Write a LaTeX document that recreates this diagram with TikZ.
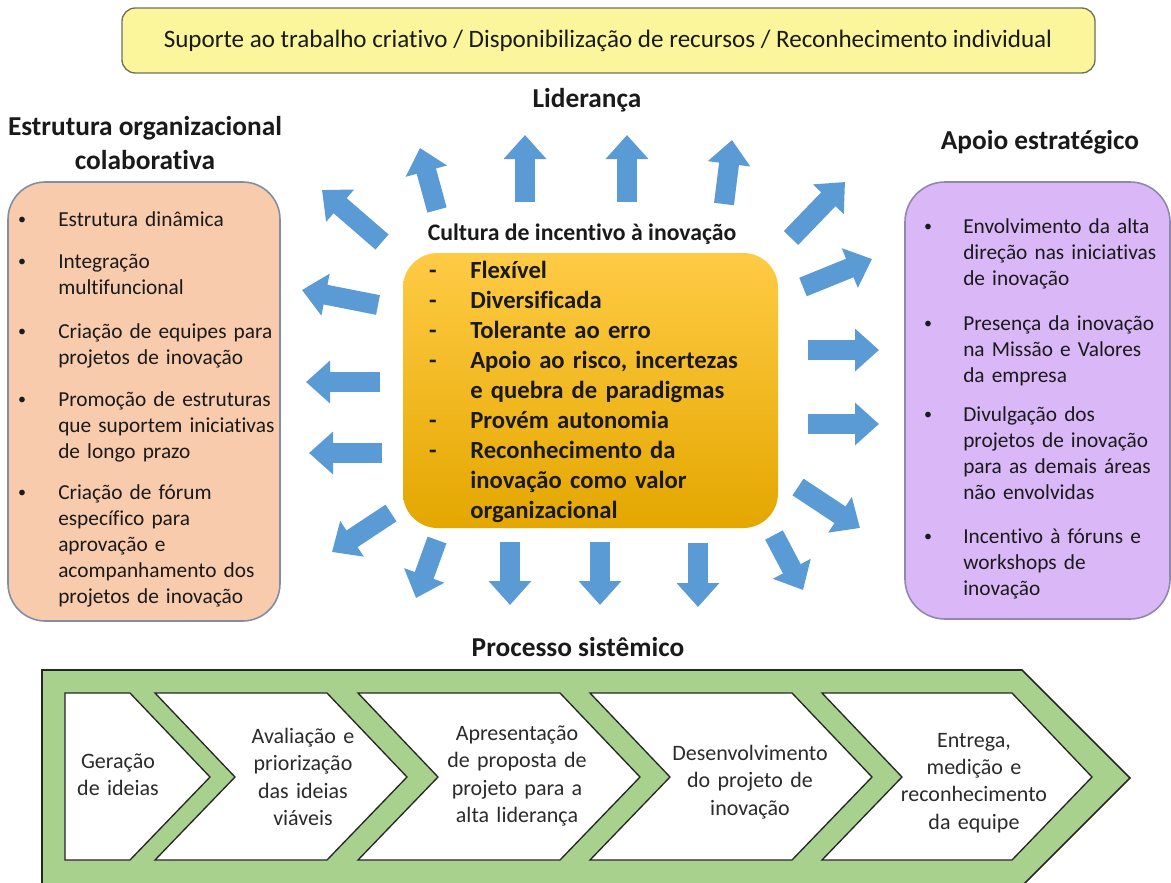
\documentclass[tikz,border=0pt]{standalone}
\usepackage{fontspec}
\setmainfont{Carlito}[Ligatures=NoCommon]
\usetikzlibrary{arrows.meta}

\definecolor{ink}{HTML}{1A1A1A}
\definecolor{steptext}{HTML}{2B2B2B}
\definecolor{topfill}{HTML}{FBF59C}
\definecolor{topedge}{HTML}{6E7058}
\definecolor{peach}{HTML}{F8CBAD}
\definecolor{peachedge}{HTML}{7F8EA6}
\definecolor{lilac}{HTML}{DAB8F7}
\definecolor{lilacedge}{HTML}{8E88B0}
\definecolor{goldtop}{HTML}{FFCB45}
\definecolor{goldmid}{HTML}{FFC000}
\definecolor{goldbot}{HTML}{E4A700}
\definecolor{arrowblue}{HTML}{5B9BD5}
\definecolor{leaf}{HTML}{A9D18E}

\begin{document}
\begin{tikzpicture}[x=0.75pt, y=-0.75pt,
  heading/.style={font=\fontsize{20.5}{25}\selectfont\bfseries, text=ink, inner sep=0, align=center},
  listitem/.style={font=\fontsize{16}{19.5}\selectfont, text=ink, align=left, inner sep=0,
                   anchor=base west, text width=190pt},
  bulletmark/.style={font=\fontsize{12}{14}\selectfont, text=ink, inner sep=0, anchor=base},
  cultitem/.style={font=\fontsize{18.5}{22.5}\selectfont\bfseries, text=ink, align=left, inner sep=0,
                   anchor=base west, text width=220pt},
  cultdash/.style={font=\fontsize{18.5}{22.5}\selectfont\bfseries, text=ink, inner sep=0, anchor=base},
  steplabel/.style={font=\fontsize{16.5}{20.5}\selectfont, text=steptext, align=center, inner sep=0,
                    text width=140pt},
  blockarrow/.style={draw=arrowblue, line width=15pt, -{Triangle[width=31pt,length=18pt]}},
  stepshape/.style={fill=white, draw=black!85, line width=1pt, line join=miter}
]
\useasboundingbox (0,0) rectangle (1171,882);

% ---------- top banner ----------
\draw[fill=topfill, draw=topedge, line width=1pt, rounded corners=10pt] (122,8) rectangle (1095,73);
\node[font=\fontsize{18.8}{22}\selectfont, text=ink, inner sep=0] (banner) at (608,41)
  {Suporte ao trabalho criativo / Disponibilização de recursos / Reconhecimento individual};

% ---------- headings ----------
\node[heading] (lead) at (587,100) {Liderança};
\node[heading] (struct) at (145,143) {Estrutura organizacional\\colaborativa};
\node[heading] (support) at (1040,142) {Apoio estratégico};
\node[heading] (process) at (578,647) {Processo sistêmico};

% ---------- left panel ----------
\draw[fill=peach, draw=peachedge, line width=1.2pt, rounded corners=28pt] (8,182) rectangle (280,621);
\foreach \n/\yy in {l1/224, l2/266, l3/336, l4/404, l5/497}
  \node[bulletmark] (b\n) at (22,\yy) {•};
\node[listitem] (l1) at (58,226) {Estrutura dinâmica};
\node[listitem] (l2) at (58,268) {Integração\\multifuncional};
\node[listitem] (l3) at (58,338) {Criação de equipes para\\projetos de inovação};
\node[listitem] (l4) at (58,406) {Promoção de estruturas\\que suportem iniciativas\\de longo prazo};
\node[listitem] (l5) at (58,499) {Criação de fórum\\específico para\\aprovação e\\acompanhamento dos\\projetos de inovação};

% ---------- right panel ----------
\draw[fill=lilac, draw=lilacedge, line width=1.2pt, rounded corners=30pt] (905,182) rectangle (1170,619);
\foreach \n/\yy in {r1/231, r2/328, r3/419, r4/541}
  \node[bulletmark] (b\n) at (928,\yy) {•};
\node[listitem] (r1) at (963,233) {Envolvimento da alta\\direção nas iniciativas\\de inovação};
\node[listitem] (r2) at (963,330) {Presença da inovação\\na Missão e Valores\\da empresa};
\node[listitem] (r3) at (963,421) {Divulgação dos\\projetos de inovação\\para as demais áreas\\não envolvidas};
\node[listitem] (r4) at (963,543) {Incentivo à fóruns e\\workshops de\\inovação};

% ---------- central culture box ----------
\node[font=\fontsize{17.8}{21}\selectfont\bfseries, text=ink, inner sep=0] (culture) at (582,234)
  {Cultura de incentivo à inovação};
\shade[top color=goldtop, middle color=goldmid, bottom color=goldbot, rounded corners=26pt]
  (403,253) rectangle (778,528);
\foreach \n/\yy in {c1/278, c2/308, c3/338, c4/368, c5/428, c6/458}
  \node[cultdash] (d\n) at (433,\yy) {-};
\node[cultitem] (c1) at (470,278) {Flexível};
\node[cultitem] (c2) at (470,308) {Diversificada};
\node[cultitem] (c3) at (470,338) {Tolerante ao erro};
\node[cultitem] (c4) at (470,368) {Apoio ao risco, incertezas\\e quebra de paradigmas};
\node[cultitem] (c5) at (470,428) {Provém autonomia};
\node[cultitem] (c6) at (470,458) {Reconhecimento da\\inovação como valor\\organizacional};

% ---------- radiating arrows ----------
\foreach \i/\ax/\ay/\bx/\by in {
   1/382/242/322/190,  2/437/210/420/148,  3/525/202/525/135,  4/627/202/627/135,
   5/724/204/732/140,  6/791/238/845/182,  7/803/287/872/259,  8/808/350/879/350,
   9/808/424/879/424, 10/798/487/860/528, 11/774/535/803/590, 12/698/543/698/607,
  13/600/542/600/605, 14/510/542/510/605, 15/437/540/416/598, 16/391/513/332/552,
  17/382/453/309/453, 18/380/382/306/382, 19/378/305/302/290} {
  \coordinate (tail\i) at (\ax,\ay);
  \coordinate (tip\i) at (\bx,\by);
  \draw[blockarrow] (tail\i) -- (tip\i);
}

% ---------- process band ----------
\begin{scope}
  \clip (0,0) rectangle (1171,882);
  \draw[fill=leaf, draw=black!85, line width=1.2pt, line join=miter]
    (42,670) -- (1022,670) -- (1130,778) -- (1022,886) -- (42,886) -- cycle;
\end{scope}
\draw[stepshape] (65,693) -- (130,693) -- (210,777) -- (130,860) -- (65,860) -- cycle;
\draw[stepshape] (155,693) -- (327,693) -- (407,777) -- (327,860) -- (155,860) -- (235,777) -- cycle;
\draw[stepshape] (358,693) -- (560,693) -- (640,777) -- (560,860) -- (358,860) -- (438,777) -- cycle;
\draw[stepshape] (590,693) -- (792,693) -- (872,777) -- (792,860) -- (590,860) -- (670,777) -- cycle;
\draw[stepshape] (822,693) -- (1012,693) -- (1092,777) -- (1012,860) -- (822,860) -- (902,777) -- cycle;

\node[steplabel] (s1) at (118,775) {Geração\\de ideias};
\node[steplabel] (s2) at (303,777) {Avaliação e\\priorização\\das ideias\\viáveis};
\node[steplabel] (s3) at (517,776) {Apresentação\\de proposta de\\projeto para a\\alta liderança};
\node[steplabel] (s4) at (750,782) {Desenvolvimento\\do projeto de\\inovação};
\node[steplabel] (s5) at (974,783) {Entrega,\\medição e\\reconhecimento\\da equipe};
\end{tikzpicture}
\end{document}
